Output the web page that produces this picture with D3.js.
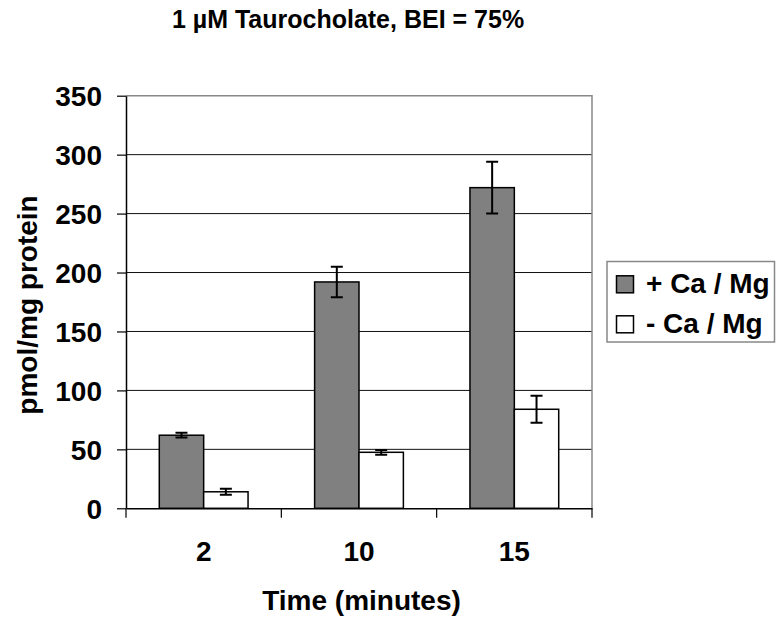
<!DOCTYPE html>
<html>
<head>
<meta charset="utf-8">
<script src="https://cdn.jsdelivr.net/npm/d3@7"></script>
<style>
  html, body { margin: 0; padding: 0; background: #fff; }
  svg { display: block; }
  text { font-family: "Liberation Sans", Arial, sans-serif; font-weight: bold; fill: #000; }
</style>
</head>
<body>
<svg id="chart" width="776" height="619"></svg>
<script>
// ---- data ----
const categories = ["2", "10", "15"];
const seriesNames = ["+ Ca / Mg", "- Ca / Mg"];
const plusValues = [62, 192, 272];
const plusErrors = [2, 13, 22];
const minusValues = [14, 47.5, 84];
const minusErrors = [2.5, 2, 11.5];
const yTicks = [0, 50, 100, 150, 200, 250, 300, 350];
const titleText = "1 \u00B5M Taurocholate, BEI = 75%";
const xTitle = "Time (minutes)";
const yTitle = "pmol/mg protein";

const seriesFill = ["#808080", "#ffffff"];
const seriesVals = [plusValues, minusValues];
const seriesErrs = [plusErrors, minusErrors];

// ---- layout ----
const svg = d3.select("#chart");
const L = 126, R = 592, T = 95.7, B = 508.3;

const x0 = d3.scaleBand().domain(categories).range([L, R]).paddingInner(0).paddingOuter(0);
const x1 = d3.scaleBand().domain(seriesNames).range([0, x0.bandwidth()]).paddingInner(0).paddingOuter(0.75);
const y = d3.scaleLinear().domain([0, 350]).range([B, T]);

// gridlines
svg.append("g").selectAll("line").data(yTicks.filter(d => d > 0 && d < 350)).join("line")
  .attr("x1", L).attr("x2", R).attr("y1", d => y(d)).attr("y2", d => y(d))
  .attr("stroke", "#111").attr("stroke-width", 1);

// plot border top/right (gray)
svg.append("path")
  .attr("d", `M${L},${y(350)}H${R}V${B}`)
  .attr("fill", "none").attr("stroke", "#888").attr("stroke-width", 1.5);

// bars
const bars = [];
seriesNames.forEach((s, si) => {
  categories.forEach((c, ci) => {
    bars.push({ s, si, c, v: seriesVals[si][ci], e: seriesErrs[si][ci] });
  });
});
svg.append("g").selectAll("rect").data(bars).join("rect")
  .attr("x", d => x0(d.c) + x1(d.s))
  .attr("y", d => y(d.v))
  .attr("width", x1.bandwidth())
  .attr("height", d => y(0) - y(d.v))
  .attr("fill", d => seriesFill[d.si])
  .attr("stroke", "#000").attr("stroke-width", 1.5);

// error bars
const eb = svg.append("g").attr("stroke", "#000").attr("stroke-width", 2).attr("fill", "none");
const capW = 6;
eb.selectAll("path").data(bars).join("path")
  .attr("d", d => {
    const cx = x0(d.c) + x1(d.s) + x1.bandwidth() / 2;
    const y1 = y(d.v + d.e), y2 = y(d.v - d.e);
    return `M${cx},${y1}V${y2}M${cx - capW},${y1}H${cx + capW}M${cx - capW},${y2}H${cx + capW}`;
  });

// y axis
const yAxis = svg.append("g").attr("transform", `translate(${L},0)`)
  .call(d3.axisLeft(y).tickValues(yTicks).tickSize(9).tickPadding(15).tickSizeOuter(0));
yAxis.select(".domain").attr("stroke", "#000").attr("stroke-width", 1.5);
yAxis.selectAll(".tick line").attr("stroke", "#000").attr("stroke-width", 1.2);
yAxis.selectAll("text").style("font-size", "28px").attr("dy", "0.36em");

// x axis labels
const xAxis = svg.append("g").attr("transform", `translate(0,${B})`)
  .call(d3.axisBottom(x0).tickSize(0).tickPadding(33));
xAxis.select(".domain").attr("stroke", "#000").attr("stroke-width", 1.5);
xAxis.selectAll("text").style("font-size", "28px");

// x axis boundary ticks
const bounds = categories.map(c => x0(c)).concat([x0.range()[1]]);
svg.append("g").selectAll("line").data(bounds).join("line")
  .attr("x1", d => d).attr("x2", d => d).attr("y1", B).attr("y2", B + 9.5)
  .attr("stroke", "#000").attr("stroke-width", 1.2);

// titles
svg.append("text").attr("x", 348).attr("y", 28).attr("text-anchor", "middle")
  .style("font-size", "25px").text(titleText);
svg.append("text").attr("x", 361.5).attr("y", 610).attr("text-anchor", "middle")
  .style("font-size", "28px").text(xTitle);
svg.append("text").attr("transform", "translate(37,305) rotate(-90)").attr("text-anchor", "middle")
  .style("font-size", "28px").text(yTitle);

// legend
const lg = svg.append("g");
lg.append("rect").attr("x", 607).attr("y", 261.5).attr("width", 167.5).attr("height", 80.5)
  .attr("fill", "#fff").attr("stroke", "#888").attr("stroke-width", 1.5);
const legendRows = [293.3, 333.3];
seriesNames.forEach((s, i) => {
  lg.append("rect").attr("x", 616.5).attr("y", legendRows[i] - 17.5).attr("width", 17).attr("height", 17)
    .attr("fill", seriesFill[i]).attr("stroke", "#000").attr("stroke-width", 1.5);
  lg.append("text").attr("x", 646).attr("y", legendRows[i]).style("font-size", "28px").text(s);
});
</script>
</body>
</html>
